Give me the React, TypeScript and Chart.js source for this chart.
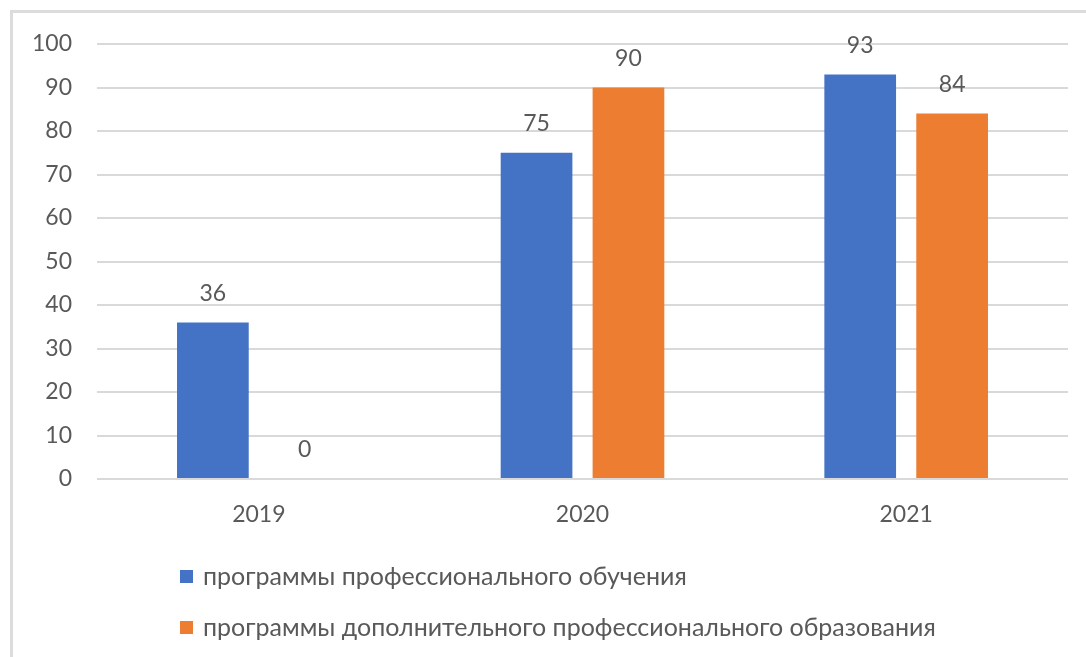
import React, { useEffect, useRef } from "react";
import { Chart, registerables } from "chart.js";

Chart.register(...registerables);

const categories = ["2019", "2020", "2021"];
const seriesNames = [
  "программы профессионального обучения",
  "программы дополнительного профессионального образования",
];
const seriesProf = [36, 75, 93];
const seriesDop = [0, 90, 84];
const seriesColors = ["#4472C4", "#ED7D31"];

const FONT = "Lato";
const TEXT = "#595959";

const valueLabels = {
  id: "valueLabels",
  afterDatasetsDraw(chart: any) {
    const ctx = chart.ctx;
    ctx.save();
    ctx.font = `23px ${FONT}`;
    ctx.fillStyle = TEXT;
    ctx.textAlign = "center";
    ctx.textBaseline = "middle";
    chart.data.datasets.forEach((ds: any, i: number) => {
      const meta = chart.getDatasetMeta(i);
      meta.data.forEach((el: any, j: number) => {
        ctx.fillText(String(ds.data[j]), el.x, el.y - 29);
      });
    });
    ctx.restore();
  },
};

const sideLegend = {
  id: "sideLegend",
  afterDraw(chart: any) {
    const ctx = chart.ctx;
    ctx.save();
    ctx.font = `25px ${FONT}`;
    ctx.textBaseline = "middle";
    ctx.textAlign = "left";
    const rows = [577, 628];
    chart.data.datasets.forEach((ds: any, i: number) => {
      const y = rows[i];
      ctx.fillStyle = ds.backgroundColor;
      ctx.fillRect(180, y - 7, 13, 13);
      ctx.fillStyle = TEXT;
      ctx.fillText(ds.label, 203, y);
    });
    ctx.restore();
  },
};

export default function App() {
  const ref = useRef<HTMLCanvasElement>(null);
  useEffect(() => {
    if (!ref.current) return;
    const chart = new Chart(ref.current, {
      type: "bar",
      data: {
        labels: categories,
        datasets: [
          {
            label: seriesNames[0],
            data: seriesProf,
            backgroundColor: seriesColors[0],
            categoryPercentage: 0.568,
            barPercentage: 0.78,
          },
          {
            label: seriesNames[1],
            data: seriesDop,
            backgroundColor: seriesColors[1],
            categoryPercentage: 0.568,
            barPercentage: 0.78,
          },
        ],
      },
      options: {
        responsive: false,
        animation: false,
        devicePixelRatio: 1,
        layout: { padding: { left: 0, right: 18, top: 44, bottom: 0 } },
        plugins: {
          legend: { display: false },
          tooltip: { enabled: false },
        },
        scales: {
          y: {
            min: 0,
            max: 100,
            ticks: {
              stepSize: 10,
              color: TEXT,
              font: { family: FONT, size: 23 },
              padding: 25,
            },
            grid: { color: "#d9d9d9", lineWidth: 2, drawTicks: false },
            border: { display: false },
            afterFit: (s: any) => {
              s.width = 97;
            },
          },
          x: {
            ticks: {
              color: TEXT,
              font: { family: FONT, size: 23 },
              padding: 22,
            },
            grid: { display: false, drawTicks: false },
            border: { display: false },
            afterFit: (s: any) => {
              s.height = 178;
            },
          },
        },
      },
      plugins: [valueLabels, sideLegend],
    });
    return () => chart.destroy();
  }, []);

  return (
    <div
      style={{
        position: "fixed",
        left: 0,
        top: 0,
        width: 1086,
        height: 657,
        background: "#ffffff",
        overflow: "hidden",
      }}
    >
      <div
        style={{
          position: "absolute",
          left: 10,
          top: 10,
          right: -10,
          bottom: -10,
          borderTop: "3px solid #dcdcdc",
          borderLeft: "3px solid #dcdcdc",
        }}
      />
      <canvas
        ref={ref}
        width={1086}
        height={657}
        style={{ position: "absolute", left: 0, top: 0, width: 1086, height: 657 }}
      />
    </div>
  );
}
